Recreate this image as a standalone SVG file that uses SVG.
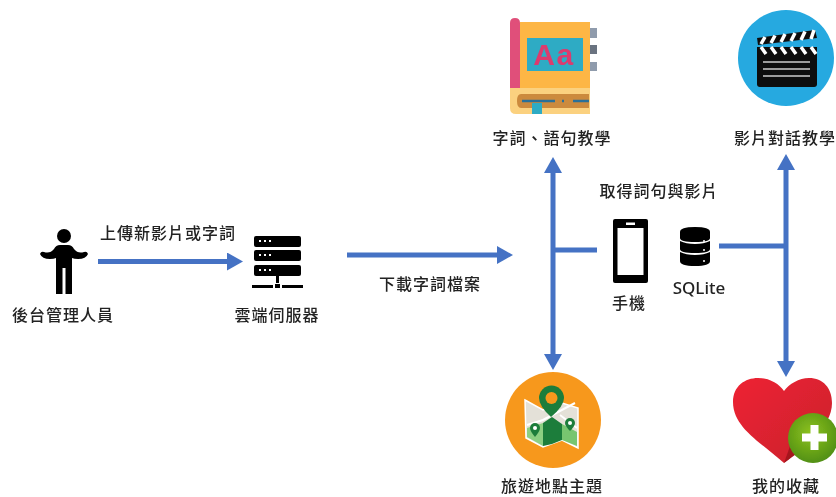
<svg xmlns="http://www.w3.org/2000/svg" width="836" height="497" viewBox="0 0 836 497">
<defs>
<style>
.t{font-family:"Noto Sans CJK TC","Noto Sans",sans-serif;font-size:16px;font-weight:500;letter-spacing:1px;fill:#222;text-anchor:middle}
.c{fill:none;stroke:#4472c4;stroke-width:5}
.k{fill:#000}
</style>
<marker id="a" viewBox="0 0 16 18" refX="8" refY="9" markerWidth="16" markerHeight="18" markerUnits="userSpaceOnUse" orient="auto-start-reverse"><path d="M0 0L16 9L0 18Z" fill="#4472c4"/></marker>
<linearGradient id="h" x1="0" y1="0" x2="1" y2="1"><stop offset="0" stop-color="#ee2433"/><stop offset="1" stop-color="#c91f2c"/></linearGradient>
<radialGradient id="g" cx=".45" cy=".4" r=".65"><stop offset="0" stop-color="#8dc21f"/><stop offset="1" stop-color="#4d8c12"/></radialGradient>
<filter id="b" x="0" y="0" width="100%" height="100%"><feGaussianBlur stdDeviation="0.45"/></filter>
</defs>
<rect width="836" height="497" fill="#fff"/>
<g filter="url(#b)">
<g id="connectors">
<path class="c" d="M98 261.500H235" marker-end="url(#a)"/>
<path class="c" d="M347 255H505" marker-end="url(#a)"/>
<path class="c" d="M553 165V362" marker-start="url(#a)" marker-end="url(#a)"/>
<path class="c" d="M786 162V369" marker-start="url(#a)" marker-end="url(#a)"/>
<path class="c" d="M553 250H597"/>
<path class="c" d="M719 246H786"/>
</g>
<g id="admin">
<circle class="k" cx="64" cy="236" r="7"/>
<path class="k" d="M40 254Q41 251 44 252Q50 254 54 249Q56 245 60 245H68Q72 245 74 249Q78 254 84 252Q87 251 88 254Q86 259 78 259Q74 259 72 258V294H65.500V268H62.500V294H56V258Q54 259 50 259Q42 259 40 254Z"/>
<text class="t" x="63" y="321">後台管理人員</text>
</g>
<g id="server">
<rect class="k" x="254" y="236" width="47" height="11" rx="2"/>
<rect class="k" x="254" y="250" width="47" height="11" rx="2"/>
<rect class="k" x="254" y="265" width="47" height="11" rx="2"/>
<path d="M259 241h2m3 0h2m3 0h2M259 255h2m3 0h2m3 0h2M259 270h2m3 0h2m3 0h2" stroke="#fff" stroke-width="2" fill="none"/>
<rect class="k" x="276" y="276" width="3" height="7"/>
<rect class="k" x="252" y="285" width="21" height="3"/>
<rect class="k" x="275" y="284" width="5" height="4"/>
<rect class="k" x="282" y="285" width="21" height="3"/>
<text class="t" x="277" y="321">雲端伺服器</text>
</g>
<text class="t" x="168" y="239">上傳新影片或字詞</text>
<text class="t" x="430" y="290">下載字詞檔案</text>
<text class="t" x="659" y="197">取得詞句與影片</text>
<g id="book">
<path d="M520 22H590V88H520Z" fill="#fdb644"/>
<path d="M510 88H590V114H516Q510 114 510 108Z" fill="#fbd17f"/>
<path d="M510 88V23Q510 18 515 18Q520 18 520 23V88Z" fill="#e0507a"/>
<rect x="527" y="38" width="56" height="33" fill="#2eabc4"/>
<path d="M521 94H589V108H521Q517 108 517 101Q517 94 521 94Z" fill="#cc8a3c"/>
<path d="M522 101H555M562 101H564M573 101H589" stroke="#2c6f98" stroke-width="2.500" fill="none"/>
<rect x="532" y="103" width="10" height="11" fill="#2eabc4"/>
<rect x="590" y="28" width="7" height="10" fill="#8f9bac"/>
<rect x="590" y="45" width="7" height="9" fill="#6b7380"/>
<rect x="590" y="62" width="7" height="9" fill="#8f9bac"/>
<text x="554" y="65" font-family="Liberation Sans,sans-serif" font-weight="bold" font-size="30" letter-spacing="1.500" fill="#dc3a6e" text-anchor="middle">Aa</text>
<text class="t" x="552" y="144">字詞、語句教學</text>
</g>
<g id="movie">
<circle cx="786" cy="58" r="48" fill="#25a9e0"/>
<path d="M757 38L815 30L817 38L758 45Z" fill="#111"/>
<path d="M765 37L761 44M775 35.500L771 43M785 34L781 42M795 33L791 41M805 31.500L801 40M814 30L811 39" stroke="#fff" stroke-width="3.500" fill="none"/>
<path d="M757 47H817V84Q817 87 814 87H760Q757 87 757 84Z" fill="#0c0c0c"/>
<path d="M761 47L766 54M771 47L776 54M781 47L786 54M791 47L796 54M801 47L806 54M811 47L816 54" stroke="#fff" stroke-width="3.500" fill="none"/>
<path d="M763 62H810M763 69H810M763 76H810" stroke="#ccc" stroke-width="1.500" fill="none"/>
<text class="t" x="785" y="144">影片對話教學</text>
</g>
<g id="phone">
<rect class="k" x="613" y="219" width="35" height="64" rx="2"/>
<rect x="617.500" y="228" width="26" height="47" fill="#fff"/>
<rect x="626" y="222.500" width="9" height="2.500" fill="#fff"/>
<text class="t" x="629" y="309">手機</text>
</g>
<g id="sqlite">
<path class="k" d="M680 232Q680 227 695 227Q710 227 710 232V238Q710 242 695 242Q680 242 680 238Z"/>
<path class="k" d="M680 241Q686 244 695 244Q704 244 710 241V249Q710 253 695 253Q680 253 680 249Z"/>
<path class="k" d="M680 252Q686 255 695 255Q704 255 710 252V261Q710 266 695 266Q680 266 680 261Z"/>
<circle cx="704" cy="241" r="1" fill="#fff"/><circle cx="704" cy="250" r="1" fill="#fff"/><circle cx="704" cy="261" r="1" fill="#fff"/>
<text x="699" y="294" font-family="Noto Sans,sans-serif" font-weight="500" font-size="17" fill="#222" text-anchor="middle">SQLite</text>
</g>
<g id="travel">
<circle cx="553" cy="420" r="48" fill="#f7981d"/>
<path d="M525 400L543 410L562 403L578 408V448L562 440L543 447L526 438Z" fill="#e4e1d8" stroke="#fff" stroke-width="1.500"/>
<path d="M527 437V428L543 423V446Z" fill="#8ccf82"/>
<path d="M543 423L552 417L562 424V440L552 444L543 446Z" fill="#1e7d3a"/>
<path d="M562 424L577 432V446L562 440Z" fill="#78c56f"/>
<path d="M527 425L543 420L575 403M560 415L577 428" stroke="#fff" stroke-width="2" fill="none"/>
<path d="M551 417Q539 406 539 398A12.500 12.500 0 0 1 564 398Q564 406 551 417Z" fill="#1e7d3a"/>
<circle cx="551.500" cy="398" r="6" fill="#f7981d"/>
<path d="M535 437Q530 431 530 428A5 5 0 0 1 540 428Q540 431 535 437Z" fill="#1e7d3a"/>
<circle cx="535" cy="428" r="2" fill="#fff"/>
<path d="M570 431Q565 426 565 423A5 5 0 0 1 575 423Q575 426 570 431Z" fill="#1e7d3a"/>
<circle cx="570" cy="423" r="2" fill="#fff"/>
<text class="t" x="552" y="492">旅遊地點主題</text>
</g>
<g id="favorite">
<path d="M784 463C762 443 733 428 733 402C733 386 745 378 758 378C770 378 779 384 784 391C789 384 799 378 809 378C823 378 832 388 832 403C832 428 804 445 784 463Z" fill="url(#h)"/>
<path d="M784 463C788 460 800 452 806 445L792 440L788 452Z" fill="#a5141f"/>
<circle cx="813" cy="438" r="25" fill="url(#g)"/>
<path d="M810.500 425H818.500V433.500H827V441.500H818.500V450H810.500V441.500H802V433.500H810.500Z" fill="#fff"/>
<text class="t" x="786" y="492">我的收藏</text>
</g>
</g>
</svg>
